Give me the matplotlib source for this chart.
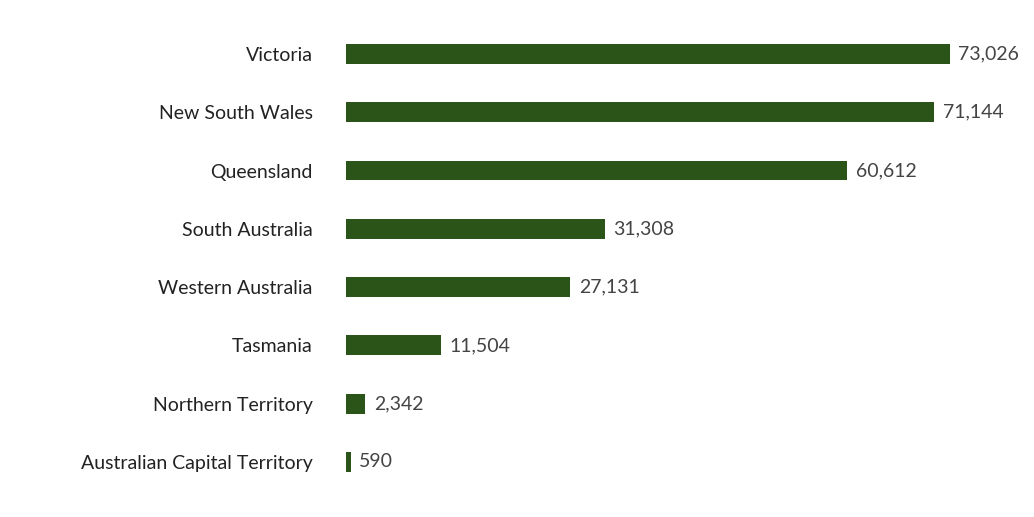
import matplotlib
matplotlib.use("Agg")
import matplotlib.pyplot as plt

states = ["Victoria", "New South Wales", "Queensland", "South Australia",
          "Western Australia", "Tasmania", "Northern Territory",
          "Australian Capital Territory"]
values = [73026, 71144, 60612, 31308, 27131, 11504, 2342, 590]

plt.rcParams['font.family'] = ['Lato', 'DejaVu Sans']
fig = plt.figure(figsize=(10.34, 5.17), dpi=100)
ax = fig.add_axes([346/1034, 0, 1 - 346/1034, 1])
y = list(range(len(states)))
ax.barh(y, values, height=0.34, color="#2a5418")
ax.set_xlim(0, 83180)
ax.set_ylim(7.944, -0.926)
for yi, v in zip(y, values):
    ax.text(v + 1000, yi, f"{v:,}", va="center", ha="left", fontsize=14, color="#444444")
ax.set_yticks(y)
ax.set_yticklabels(states, fontsize=14, color="#222222")
ax.tick_params(axis="y", length=0, pad=24)
ax.set_xticks([])
for s in ax.spines.values():
    s.set_visible(False)
fig.savefig("out.png", dpi=100)
